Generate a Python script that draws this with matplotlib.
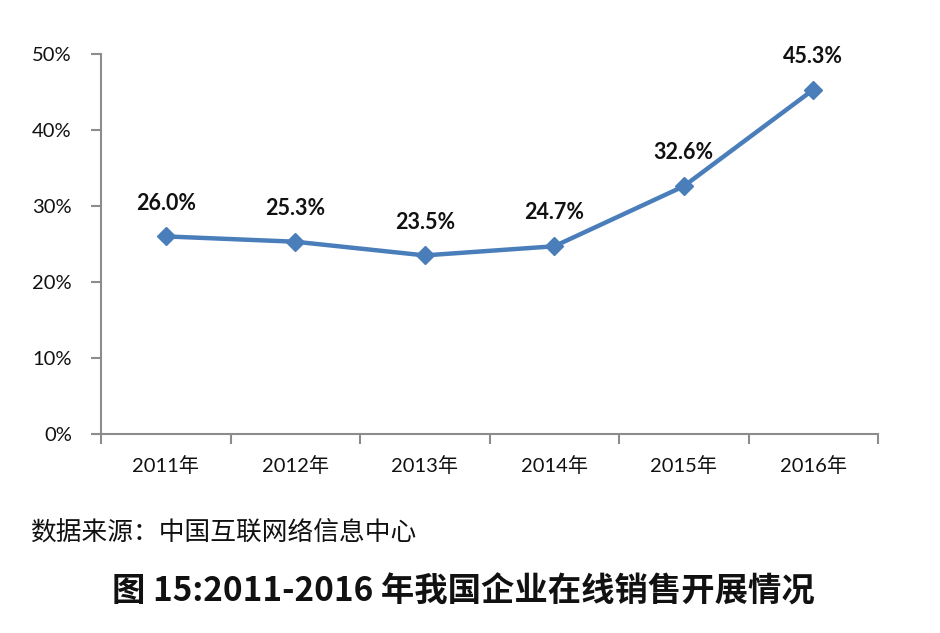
import matplotlib
matplotlib.use('Agg')
import matplotlib.pyplot as plt
from matplotlib.ticker import FuncFormatter

plt.rcParams['font.family'] = ['Lato', 'Noto Sans CJK SC', 'DejaVu Sans']

years = ['2011年', '2012年', '2013年', '2014年', '2015年', '2016年']
rates = [26.0, 25.3, 23.5, 24.7, 32.6, 45.3]
source = '数据来源：中国互联网络信息中心'
title = '图 15:2011-2016 年我国企业在线销售开展情况'

fig = plt.figure(figsize=(9.4, 6.33), dpi=100)
ax = fig.add_axes([101/940, 1-434/633, 777/940, 380/633])

x = list(range(len(years)))
ax.plot(x, rates, color='#4A7EBB', lw=3.2, marker='D', markersize=9,
        markeredgecolor='#4A7EBB', markerfacecolor='#4A7EBB', zorder=3)
for xi, v in zip(x, rates):
    ax.annotate('%.1f%%' % v, (xi, v), xytext=(0, 24), textcoords='offset points',
                ha='center', va='center', fontsize=15.5, fontweight='bold', color='#111111')

ax.set_xlim(-0.5, len(years) - 0.5)
ax.set_ylim(0, 50)
ax.set_yticks(range(0, 51, 10))
ax.yaxis.set_major_formatter(FuncFormatter(lambda v, p: '%d%%' % v))

ax.set_xticks([i - 0.5 for i in range(len(years) + 1)])
ax.set_xticklabels([])
ax.set_xticks(x, minor=True)
ax.set_xticklabels(years, minor=True)
ax.tick_params(axis='x', which='minor', length=0, pad=16, labelsize=14.5, colors='#111111')
ax.tick_params(axis='x', which='major', length=7, width=1.5, color='#8c8c8c')
ax.tick_params(axis='y', length=7, width=1.5, color='#8c8c8c', pad=14, labelsize=14.5, labelcolor='#111111')

for s in ['top', 'right']:
    ax.spines[s].set_visible(False)
for s in ['left', 'bottom']:
    ax.spines[s].set_color('#8c8c8c')
    ax.spines[s].set_linewidth(1.5)

fig.text(30/940, 1-533/633, source, fontsize=18.5, family=['Noto Sans CJK SC'],
         ha='left', va='center', color='#111111')
fig.text(463/940, 1-592/633, title, fontsize=24, fontweight='bold',
         family=['Noto Sans CJK SC'], ha='center', va='center', color='#111111')

fig.savefig('out.png', dpi=100)
